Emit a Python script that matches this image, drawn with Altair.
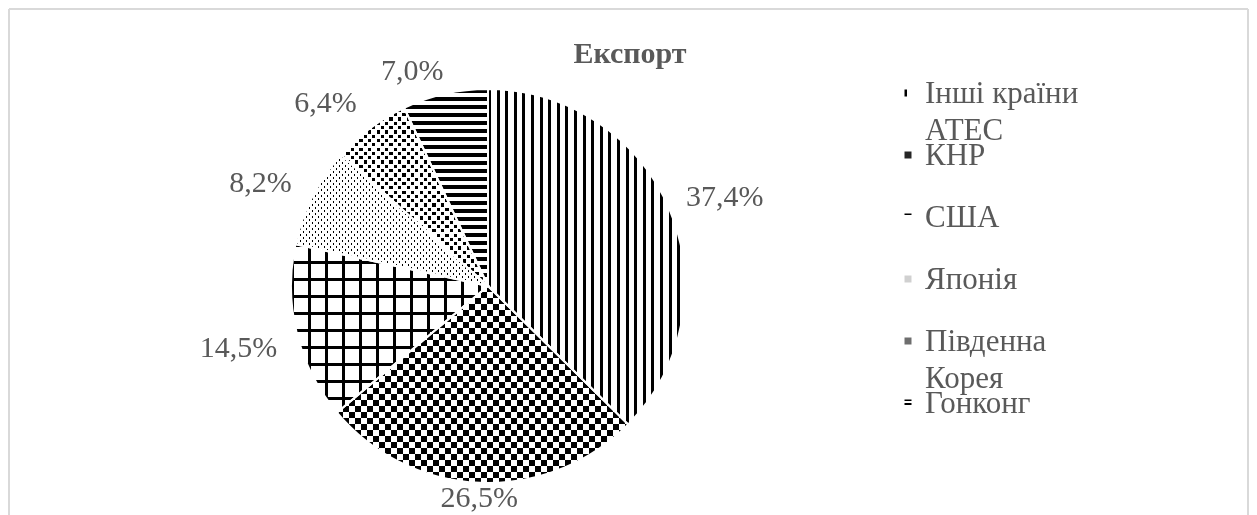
import math
import altair as alt
import pandas as pd

# ---------------- data ----------------
categories = ["Інші країни АТЕС", "КНР", "США", "Японія", "Південна Корея", "Гонконг"]
legend_labels = ["Інші країни\nАТЕС", "КНР", "США", "Японія", "Південна\nКорея", "Гонконг"]
shares = [37.4, 26.5, 14.5, 8.2, 6.4, 7.0]
value_labels = ["37,4%", "26,5%", "14,5%", "8,2%", "6,4%", "7,0%"]
title_text = "Експорт"

# ---------------- layout / style ----------------
W, H = 1241, 507
R = 197
CX, CY = 480, 278
FONT = "Liberation Serif"
GREY = "#595959"
BLACK = "#000000"
WHITE = "#ffffff"
CLEAR = "rgba(255,255,255,0)"

starts, ends = [], []
acc = 0.0
for s in shares:
    starts.append(acc)
    acc += s
    ends.append(acc)
mids = [(a + b) / 2 for a, b in zip(starts, ends)]


def char_w(ch):
    return {",": 0.25, "%": 0.833}.get(ch, 0.5)


# label placement (outside end, best-fit-like)
lab_t, lab_r = [], []
for lab, m in zip(value_labels, mids):
    t = math.radians(m * 3.6)
    s, c = math.sin(t), math.cos(t)
    hw = 15 * sum(char_w(ch) for ch in lab)
    hh = 10
    gap = 20 - 16 * max(0.0, -c) ** 4
    rr = R + gap + hw * abs(s) + hh * abs(c)
    px = rr * s
    py = -rr * c
    up = max(0.0, c)
    py += 13 * up ** 0.3
    if s < 0:
        px -= 26 * up ** 2
    ang = math.atan2(px, -py) % (2 * math.pi)
    lab_t.append(ang / (2 * math.pi) * 100)
    lab_r.append(math.hypot(px, py))

df = pd.DataFrame({
    "cat": categories,
    "legend": legend_labels,
    "order": list(range(len(categories))),
    "start": starts,
    "end": ends,
    "lt": lab_t,
    "label": value_labels,
    "lr": lab_r,
})


def sector_bbox(p0, p1):
    a0, a1 = p0 * 3.6, p1 * 3.6
    angs = [a0, a1] + [k for k in (0, 90, 180, 270, 360) if a0 <= k <= a1]
    pts = [(0.0, 0.0)]
    for a in angs:
        t = math.radians(a)
        pts.append((R * math.sin(t), -R * math.cos(t)))
    xs = [p[0] for p in pts]
    ys = [p[1] for p in pts]
    return max(xs) - min(xs), max(ys) - min(ys)


def stripes(extent, period, on_px, on, off, horizontal):
    stops = []
    k = 0
    while k * period < extent:
        a = k * period / extent
        b = min(1.0, (k * period + on_px) / extent)
        c = min(1.0, (k + 1) * period / extent)
        stops += [(a, on), (b, on), (b, off), (c, off)]
        k += 1
    x2, y2 = (0, 1) if horizontal else (1, 0)
    return alt.LinearGradient(
        gradient="linear", x1=0, y1=0, x2=x2, y2=y2,
        stops=[alt.GradientStop(offset=round(o, 5), color=c) for o, c in stops],
    )


TS = alt.Scale(domain=[0, 100], range=[0, 2 * math.pi])
base = alt.Chart(df).encode(
    theta=alt.Theta("start:Q", scale=TS),
    theta2="end:Q",
    x=alt.value(CX),
    y=alt.value(CY),
)


def arc(cat, fill, blend=None):
    kw = dict(radius=R, fill=fill, strokeWidth=0)
    if blend:
        kw["blend"] = blend
    return base.transform_filter(alt.datum.cat == cat).mark_arc(**kw)


def checker(cat, w, h, cell, dot=None):
    out = [
        arc(cat, stripes(w, 2 * cell, cell, BLACK, WHITE, False)),
        arc(cat, stripes(h, 2 * cell, cell, WHITE, BLACK, True), blend="difference"),
    ]
    if dot:
        out += [
            arc(cat, stripes(w, cell, cell - dot, WHITE, CLEAR, False)),
            arc(cat, stripes(h, cell, cell - dot, WHITE, CLEAR, True)),
        ]
    return out


boxes = [sector_bbox(a, b) for a, b in zip(starts, ends)]
layers = []
# Інші країни АТЕС: vertical stripes
w, h = boxes[0]
layers.append(arc(categories[0], stripes(w, 8.6, 3.0, BLACK, WHITE, False)))
# КНР: checkerboard
w, h = boxes[1]
layers += checker(categories[1], w, h, 6.0)
# США: grid
w, h = boxes[2]
layers.append(arc(categories[2], stripes(w, 17, 2.6, BLACK, WHITE, False)))
layers.append(arc(categories[2], stripes(h, 17, 2.6, BLACK, CLEAR, True)))
# Японія: fine dots
w, h = boxes[3]
layers += checker(categories[3], w, h, 3.0, 1.8)
# Південна Корея: coarse dots
w, h = boxes[4]
layers += checker(categories[4], w, h, 4.3, 3.2)
# Гонконг: horizontal stripes
w, h = boxes[5]
layers.append(arc(categories[5], stripes(h, 8.0, 4.2, BLACK, WHITE, True)))

# white separators
layers.append(base.mark_arc(radius=R, filled=False, stroke="white", strokeWidth=2))

# value labels
layers.append(
    alt.Chart(df).mark_text(font=FONT, fontSize=30, color=GREY).encode(
        theta=alt.Theta("lt:Q", scale=TS),
        radius=alt.Radius("lr:Q", scale=None),
        text="label:N",
        x=alt.value(CX),
        y=alt.value(CY),
    )
)

# title
layers.append(
    alt.Chart(pd.DataFrame({"t": [title_text]})).mark_text(
        font=FONT, fontSize=30, fontWeight="bold", color=GREY
    ).encode(text="t:N", x=alt.value(622), y=alt.value(46))
)

# legend
YS = alt.Scale(type="point", range=[95, 405], padding=0)
layers.append(
    alt.Chart(df).mark_text(
        font=FONT, fontSize=31, color=GREY, align="left", baseline="alphabetic",
        lineBreak="\n", lineHeight=37,
    ).encode(
        x=alt.value(917),
        y=alt.Y("order:O", scale=YS, axis=None),
        text="legend:N",
    )
)
chip_fills = [
    stripes(7, 7, 2.5, BLACK, WHITE, False),
    "#262626",
    stripes(7, 7, 2.0, BLACK, WHITE, True),
    "#d0d0d0",
    "#6e6e6e",
    stripes(7, 3.5, 1.8, BLACK, WHITE, True),
]
for cat, f in zip(categories, chip_fills):
    layers.append(
        alt.Chart(df).transform_filter(alt.datum.cat == cat).mark_square(
            size=49, fill=f, opacity=1, strokeWidth=0, yOffset=-10
        ).encode(x=alt.value(900), y=alt.Y("order:O", scale=YS, axis=None))
    )

# frame
fr = alt.Chart(pd.DataFrame({"a": [0]}))
FC = "#d9d9d9"
layers.append(fr.mark_rule(color=FC, strokeWidth=2).encode(x=alt.value(1), y=alt.value(1), y2=alt.value(H)))
layers.append(fr.mark_rule(color=FC, strokeWidth=2).encode(x=alt.value(1), x2=alt.value(W - 1), y=alt.value(1)))
layers.append(fr.mark_rule(color=FC, strokeWidth=2).encode(x=alt.value(W - 1), y=alt.value(1), y2=alt.value(H)))

chart = alt.layer(*layers).properties(
    width=W, height=H, background="white", padding=0,
    autosize=alt.AutoSizeParams(type="none"),
).configure_view(stroke=None)

chart.save("out.html", embed_options={"renderer": "svg", "actions": False})
